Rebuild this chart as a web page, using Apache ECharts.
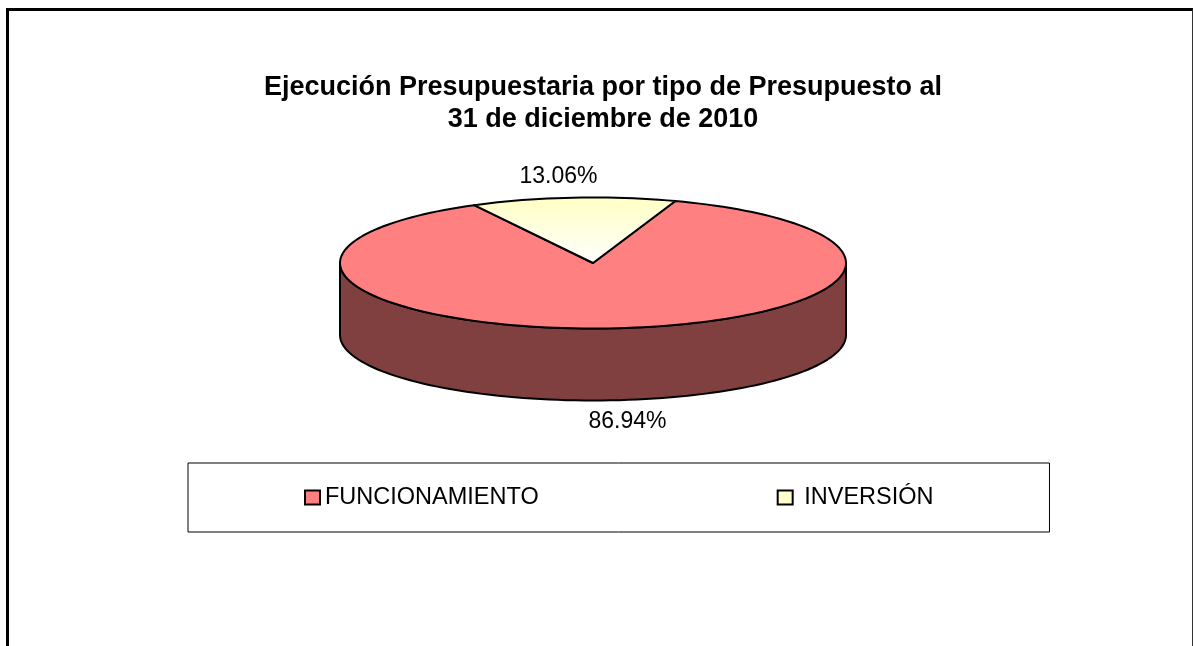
<!DOCTYPE html>
<html>
<head>
<meta charset="utf-8">
<script src="https://cdn.jsdelivr.net/npm/echarts@6/dist/echarts.min.js"></script>
<style>
  html, body { margin: 0; padding: 0; background: #fff; overflow: hidden; }
  #frame {
    position: absolute; left: 6px; top: 8px; width: 1187px; height: 700px;
    box-sizing: border-box;
    border-left: 3px solid #000; border-top: 3px solid #000; border-right: 1px solid #333;
  }
  #chart { position: absolute; left: 0; top: 0; width: 1193px; height: 646px; }
</style>
</head>
<body>
<div id="frame"></div>
<div id="chart"></div>
<script>
const categories = ['FUNCIONAMIENTO', 'INVERSIÓN'];
const shares = [86.94, 13.06];
const topColors = ['#FF8080', '#FFFFCC'];
const sideColors = ['#804040', '#808066'];

// layout of the tilted pie (pixels / degrees)
const CX = 593, CY = 263, RX = 253, RY = 65.5, DEPTH = 72;
const START = 71;        // where the first slice starts, math angle
const LABEL_SHIFT = 2.7; // labels sit a bit counter-clockwise, like Excel
const LABEL_OFF = 22;
const FONT = '"Liberation Sans", Arial, sans-serif';

const total = shares.reduce((a, c) => a + c, 0);

const pt = (deg, dy) => {
  const t = deg * Math.PI / 180;
  return [CX + RX * Math.cos(t), CY - RY * Math.sin(t) + (dy || 0)];
};
const arc = (from, to, dy) => {
  const n = Math.max(2, Math.ceil(Math.abs(to - from) / 2));
  const pts = [];
  for (let i = 0; i <= n; i++) pts.push(pt(from + (to - from) * i / n, dy));
  return pts;
};

const renderSlice = (params, api) => {
  const idx = params.seriesIndex;
  const value = api.value(0);
  const before = shares.slice(0, idx).reduce((a, c) => a + c, 0);
  const a0 = START - 360 * before / total;
  const a1 = a0 - 360 * value / total;
  const children = [];

  // front wall: only where the rim faces the viewer (sin < 0)
  for (let k = -2; k <= 2; k++) {
    const lo = Math.max(a1, -180 + 360 * k);
    const hi = Math.min(a0, 360 * k);
    if (lo < hi) {
      const pts = arc(hi, lo, 0).concat(arc(lo, hi, DEPTH));
      children.push({
        type: 'polygon',
        shape: { points: pts },
        style: { fill: sideColors[idx], stroke: '#000', lineWidth: 2, lineJoin: 'round' }
      });
    }
  }

  const fill = idx === 1
    ? new echarts.graphic.LinearGradient(0, 0, 0, 1, [
        { offset: 0, color: '#FFFFC4' },
        { offset: 1, color: '#FFFFFF' }
      ])
    : topColors[idx];
  children.push({
    type: 'polygon',
    shape: { points: [[CX, CY]].concat(arc(a0, a1, 0)) },
    style: { fill: fill, stroke: '#000', lineWidth: 2, lineJoin: 'round' }
  });

  const mid = (a0 + a1) / 2 + LABEL_SHIFT;
  const s = Math.sin(mid * Math.PI / 180);
  const c = Math.cos(mid * Math.PI / 180);
  children.push({
    type: 'text',
    style: {
      text: value.toFixed(2) + '%',
      x: CX + (RX + LABEL_OFF) * c,
      y: CY - (RY + LABEL_OFF) * s + (s < 0 ? DEPTH : 0),
      align: 'center',
      verticalAlign: 'middle',
      font: '23px ' + FONT,
      fill: '#000'
    }
  });
  return { type: 'group', children: children };
};

const option = {
  animation: false,
  title: {
    text: 'Ejecución Presupuestaria por tipo de Presupuesto al\n31 de diciembre de 2010',
    left: 598,
    top: 67,
    textAlign: 'center',
    textStyle: {
      fontFamily: FONT,
      fontSize: 27,
      fontWeight: 'bold',
      lineHeight: 32,
      color: '#000'
    }
  },
  legend: {
    left: 188,
    top: 463,
    padding: [22, 116, 22, 116],
    itemGap: 238,
    itemWidth: 15,
    itemHeight: 14,
    borderColor: '#000',
    borderWidth: 1,
    icon: 'rect',
    selectedMode: false,
    formatter: name => (name === 'INVERSIÓN' ? ' ' + name : name),
    textStyle: { fontFamily: FONT, fontSize: 23.5, lineHeight: 25, color: '#000' },
    data: categories.map((name, i) => ({
      name: name,
      itemStyle: { color: topColors[i], borderColor: '#000', borderWidth: 2 }
    }))
  },
  series: categories.map((name, i) => ({
    name: name,
    type: 'custom',
    coordinateSystem: 'none',
    itemStyle: { color: topColors[i] },
    renderItem: renderSlice,
    data: [[shares[i]]]
  }))
};

echarts.init(document.getElementById('chart')).setOption(option);
</script>
</body>
</html>
